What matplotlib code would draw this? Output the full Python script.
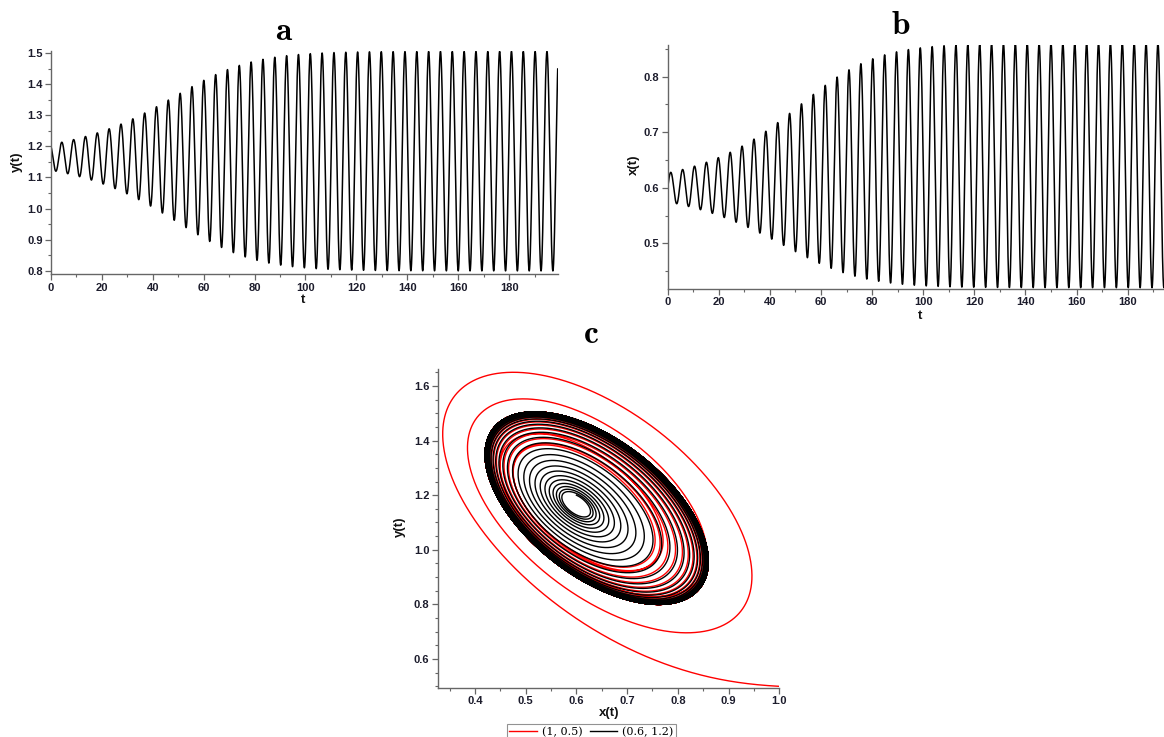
import numpy as np
import matplotlib
matplotlib.use("Agg")
import matplotlib.pyplot as plt
from matplotlib.ticker import MultipleLocator, FormatStrFormatter
from matplotlib.lines import Line2D

# ---- values ----
t_end = 200.0
period = 4.65                      # oscillation period
initial_conditions = [(1.0, 0.5), (0.6, 1.2)]   # (x0, y0) of the two runs
legend_labels = ["(1, 0.5)", "(0.6, 1.2)"]
run_colors = ["#ff0000", "#000000"]
equilibrium = (0.6, 1.165)         # centre of the small early oscillations
cycle_center = (0.64, 1.1525)      # centre of the limit cycle
cycle_half = (0.22, 0.3525)        # half ranges of x and y on the limit cycle
phase_lag = 2.16                   # phase of y relative to x (rad)
growth_rate = 0.036                # slow growth of the oscillation
outer_damping = 0.6                # damping far outside the cycle
outer_power = 3
outer_shift_x = 0.04               # centre drift of the large outer loops
lag_stages = 8                     # hidden lagged damping (from a far start)
lag_rate = 0.72
lag_gain = 0.72

omega = 2 * np.pi / period


def centre(r):
    w = np.minimum(r, 1.0) ** 2
    cx = (equilibrium[0] + (cycle_center[0] - equilibrium[0]) * w
          + outer_shift_x * np.maximum(r - 1.0, 0.0))
    cy = equilibrium[1] + (cycle_center[1] - equilibrium[1]) * w
    return cx, cy


def to_xy(r, th):
    cx, cy = centre(r)
    x = cx + cycle_half[0] * r * np.cos(th)
    y = cy + cycle_half[1] * r * np.cos(th + phase_lag)
    return x, y


def from_xy(x, y):
    r = 1.0
    th = 0.0
    for _ in range(300):
        cx, cy = centre(r)
        a = (x - cx) / cycle_half[0]
        b = (y - cy) / cycle_half[1]
        rs = (a * np.cos(phase_lag) - b) / np.sin(phase_lag)
        r_new = float(np.hypot(a, rs))
        r = 0.5 * r + 0.5 * r_new
        th = float(np.arctan2(rs, a))
    return r, th


def deriv(s):
    r = s[0]
    q = s[1:]
    d = np.empty_like(s)
    d[0] = r * (growth_rate * max(1.0 - r ** 2, 0.0)
                - outer_damping * max(r - 1.0, 0.0) ** outer_power
                - q[-1])
    d[1] = -lag_rate * q[0]
    d[2:] = lag_rate * (q[:-1] - q[1:])
    return d


dt = 0.005
t = np.arange(0.0, t_end + dt, dt)
runs = []
for (x0, y0) in initial_conditions:
    r0, th0 = from_xy(x0, y0)
    s = np.zeros(1 + lag_stages)
    s[0] = r0
    s[1] = lag_gain * max(r0 - 1.0, 0.0)
    r = np.empty_like(t)
    r[0] = r0
    for i in range(1, len(t)):
        k1 = deriv(s)
        k2 = deriv(s + 0.5 * dt * k1)
        k3 = deriv(s + 0.5 * dt * k2)
        k4 = deriv(s + dt * k3)
        s = s + dt / 6.0 * (k1 + 2 * k2 + 2 * k3 + k4)
        r[i] = s[0]
    th = th0 + omega * t
    runs.append(to_xy(r, th))

x_black, y_black = runs[1]

# ---- figure ----
W, H = 1164, 737
fig = plt.figure(figsize=(W / 100, H / 100), dpi=100)
plt.rcParams["mathtext.fontset"] = "cm"

spine_col = "#666666"
tick_col = "#1c1c2c"
SANS = "Liberation Sans"


def ax_at(left, top, right, bottom):
    return fig.add_axes([left / W, 1 - bottom / H, (right - left) / W, (bottom - top) / H])


def style(ax):
    for sp in ["top", "right"]:
        ax.spines[sp].set_visible(False)
    for sp in ["left", "bottom"]:
        ax.spines[sp].set_color(spine_col)
        ax.spines[sp].set_linewidth(1.0)
    ax.tick_params(which="major", direction="out", length=4, width=0.9,
                   color=spine_col, labelsize=8, labelcolor=tick_col, pad=2)
    ax.tick_params(which="minor", direction="out", length=2.5, width=0.8,
                   color=spine_col)
    for lab in ax.get_xticklabels() + ax.get_yticklabels():
        lab.set_fontweight("bold")
        lab.set_fontfamily(SANS)


label_kw = dict(fontsize=9.5, fontweight="bold", family=SANS, color="#111111",
                ha="center", va="center")
title_kw = dict(fontsize=24, ha="center", va="center", color="black")

# panel a
axa = ax_at(51, 51.4, 557.7, 274.3)
axa.plot(t, y_black, color="black", lw=1.1)
axa.set_xlim(0, 199.1)
axa.set_ylim(0.789, 1.505)
axa.xaxis.set_major_locator(MultipleLocator(20))
axa.xaxis.set_minor_locator(MultipleLocator(10))
axa.yaxis.set_major_locator(MultipleLocator(0.1))
axa.yaxis.set_minor_locator(MultipleLocator(0.05))
axa.yaxis.set_major_formatter(FormatStrFormatter("%.1f"))
style(axa)
fig.text(17 / W, 1 - 162 / H, "y(t)", rotation=90, **label_kw)
fig.text(303 / W, 1 - 300 / H, "t", **label_kw)
fig.text(284 / W, 1 - 31 / H, r"$\mathbf{a}$", **title_kw)

# panel b
axb = ax_at(667.7, 45, 1164, 289)
axb.plot(t, x_black, color="black", lw=1.1)
axb.set_xlim(0, 194.2)
axb.set_ylim(0.4177, 0.857)
axb.xaxis.set_major_locator(MultipleLocator(20))
axb.xaxis.set_minor_locator(MultipleLocator(10))
axb.yaxis.set_major_locator(MultipleLocator(0.1))
axb.yaxis.set_minor_locator(MultipleLocator(0.05))
axb.yaxis.set_major_formatter(FormatStrFormatter("%.1f"))
style(axb)
fig.text(634 / W, 1 - 165 / H, "x(t)", rotation=90, **label_kw)
fig.text(920 / W, 1 - 316 / H, "t", **label_kw)
fig.text(901 / W, 1 - 25 / H, r"$\mathbf{b}$", **title_kw)

# panel c
axc = ax_at(437.7, 369.3, 779.3, 687.7)
for (xr, yr), col in zip(runs, run_colors):
    axc.plot(xr, yr, color=col, lw=1.0)
axc.set_xlim(0.3265, 1.0)
axc.set_ylim(0.495, 1.661)
axc.xaxis.set_major_locator(MultipleLocator(0.1))
axc.xaxis.set_minor_locator(MultipleLocator(0.05))
axc.yaxis.set_major_locator(MultipleLocator(0.2))
axc.yaxis.set_minor_locator(MultipleLocator(0.05))
axc.xaxis.set_major_formatter(FormatStrFormatter("%.1f"))
axc.yaxis.set_major_formatter(FormatStrFormatter("%.1f"))
style(axc)
fig.text(400 / W, 1 - 527 / H, "y(t)", rotation=90, **label_kw)
fig.text(609 / W, 1 - 713 / H, "x(t)", **label_kw)
fig.text(591 / W, 1 - 333 / H, r"$\mathbf{c}$", **title_kw)

handles = [Line2D([0], [0], color=c, lw=1.0) for c in run_colors]
leg = fig.legend(handles, legend_labels, loc="upper center",
                 bbox_to_anchor=(591.5 / W, 1 - 724 / H), ncol=2,
                 prop={"family": "DejaVu Serif", "size": 8},
                 frameon=True, fancybox=False, edgecolor="#777777",
                 handlelength=2.5, handletextpad=0.45, columnspacing=0.6,
                 borderpad=0.25, borderaxespad=0.0)
leg.get_frame().set_linewidth(0.8)

fig.savefig("out.png", dpi=100)
